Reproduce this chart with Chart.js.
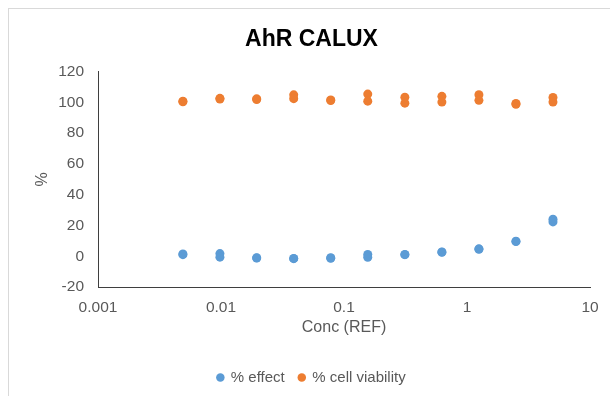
<!DOCTYPE html>
<html>
<head>
<meta charset="utf-8">
<script src="https://cdn.jsdelivr.net/npm/chart.js@4.4.1/dist/chart.umd.min.js"></script>
<style>
  html, body { margin: 0; padding: 0; background: #fff; }
  #wrap { position: relative; width: 610px; height: 396px; overflow: hidden; }
  #frame {
    position: absolute; left: 8px; top: 8px; width: 700px; height: 500px;
    border-left: 1px solid #d9d9d9; border-top: 1px solid #d9d9d9;
  }
  canvas { position: absolute; left: 0; top: 0; }
</style>
</head>
<body>
<div id="wrap">
  <div id="frame"></div>
  <canvas id="calux" width="610" height="396"></canvas>
</div>
<script>
// concentrations (REF), two replicates per concentration
const conc = [0.0049, 0.0098, 0.0195, 0.039, 0.078, 0.156, 0.3125, 0.625, 1.25, 2.5, 5];
const effectRep1 = [1.5, 1.7, -1.0, -1.4, -1.0, 1.1, 1.1, 2.8, 4.8, 9.8, 24.0];
const effectRep2 = [1.0, -0.6, -1.2, -1.6, -1.3, -0.7, 1.0, 2.6, 4.5, 9.5, 22.3];
const viabilityRep1 = [100.8, 102.6, 102.3, 104.9, 101.6, 105.4, 103.3, 103.9, 105.0, 99.3, 103.2];
const viabilityRep2 = [100.4, 102.2, 101.9, 102.4, 101.2, 100.8, 99.5, 100.2, 101.3, 98.8, 100.2];
const xTicks = [0.001, 0.01, 0.1, 1, 10];
const xTickLabels = ['0.001', '0.01', '0.1', '1', '10'];

const TEXT = '#595959';
const AXIS = '#3f3f3f';
const FONT = 'Liberation Sans, Arial, sans-serif';

function points(rep1, rep2) {
  return conc.flatMap((c, i) => [{ x: c, y: rep1[i] }, { x: c, y: rep2[i] }]);
}

const ctx = document.getElementById('calux').getContext('2d');
new Chart(ctx, {
  type: 'scatter',
  data: {
    datasets: [
      {
        label: '% effect',
        data: points(effectRep1, effectRep2),
        backgroundColor: '#5b9bd5',
        borderColor: '#5b9bd5',
        pointRadius: 4.5,
        borderWidth: 0,
      },
      {
        label: '% cell viability',
        data: points(viabilityRep1, viabilityRep2),
        backgroundColor: '#ed7d31',
        borderColor: '#ed7d31',
        pointRadius: 4.5,
        borderWidth: 0,
      },
    ],
  },
  options: {
    responsive: false,
    animation: false,
    layout: { padding: { left: 33, right: 20, top: 0, bottom: 1 } },
    plugins: {
      title: {
        display: true,
        text: 'AhR CALUX',
        color: '#000',
        font: { family: FONT, size: 23, weight: 'bold' },
        padding: { top: 26, bottom: 18 },
      },
      legend: {
        position: 'bottom',
        labels: {
          usePointStyle: true,
          pointStyle: 'circle',
          boxWidth: 6,
          boxHeight: 6,
          padding: 14,
          color: TEXT,
          font: { family: FONT, size: 15 },
        },
      },
      tooltip: { enabled: false },
    },
    scales: {
      x: {
        type: 'logarithmic',
        min: 0.001,
        max: 10,
        afterBuildTicks: (scale) => { scale.ticks = xTicks.map((v) => ({ value: v })); },
        afterFit: (scale) => { scale.height = 69; },
        grid: { display: false, drawTicks: false },
        border: { display: true, color: AXIS, width: 1 },
        ticks: {
          padding: 11,
          color: TEXT,
          font: { family: FONT, size: 15.5 },
          maxRotation: 0,
          autoSkip: false,
          callback: (v) => xTickLabels[xTicks.indexOf(v)] || '',
        },
        title: {
          display: true,
          text: 'Conc (REF)',
          color: TEXT,
          font: { family: FONT, size: 16 },
          padding: { top: 4, bottom: 19 },
        },
      },
      y: {
        min: -20,
        max: 120,
        afterFit: (scale) => { scale.width = 98 - 33; },
        grid: { display: false, drawTicks: false },
        border: { display: true, color: AXIS, width: 1 },
        ticks: {
          stepSize: 20,
          padding: 14,
          color: TEXT,
          font: { family: FONT, size: 15.5 },
        },
        title: {
          display: true,
          text: '%',
          color: TEXT,
          font: { family: FONT, size: 16 },
          padding: 0,
        },
      },
    },
  },
});
</script>
</body>
</html>
